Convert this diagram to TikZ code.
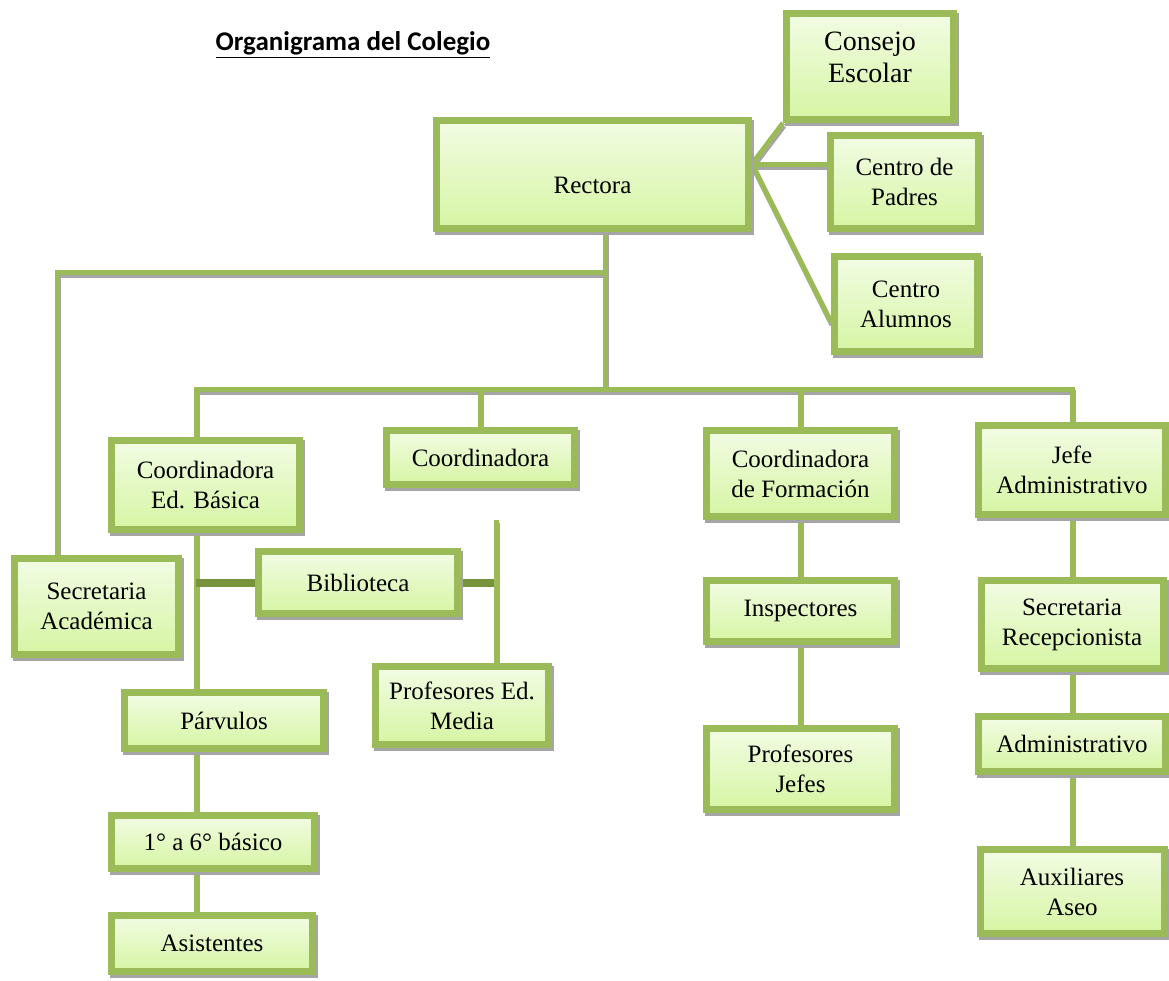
\documentclass[tikz,border=0pt]{standalone}
\usepackage{fontspec}
\setmainfont{Liberation Serif}
\newfontfamily\titlefont{Carlito}
\usepackage{xcolor}
\usetikzlibrary{shadows, backgrounds, positioning}
\definecolor{orggreen}{HTML}{9BBB59}
\definecolor{orgdark}{HTML}{77933C}
\definecolor{orgshadow}{HTML}{A5A5A5}
\definecolor{boxtop}{HTML}{F2FCE4}
\definecolor{boxbottom}{HTML}{D6F5A3}

\tikzset{
  unit/.style={draw=orggreen, line width=3.5pt, top color=boxtop, bottom color=boxbottom,
    align=center, inner sep=2pt, font=\fontsize{12.5}{15}\selectfont,
    drop shadow={shadow xshift=1pt, shadow yshift=-1.5pt, draw=orgshadow, fill=orgshadow, line width=3.5pt, opacity=1}},
  link/.style={draw=orggreen, line width=2.5pt},
  linkdark/.style={draw=orgdark, line width=4pt},
  title/.style={font=\titlefont\bfseries\fontsize{13.5}{15}\selectfont}
}

% all connectors, drawn once as shadow and once in green
\newcommand\orglinks{%
  \draw[link] (rectora.south -| hubA) -- (hubB);
  \draw[link] (hubA) -- (leftbar) -- (leftbar |- secacad.north);
  \draw[link] (rowB |- basica.north) |- (jefe.north |- hubB) -- (jefe.north);
  \draw[link] (coord.north |- hubB) -- (coord.north);
  \draw[link] (formacion.north |- hubB) -- (formacion.north);
  \draw[link] (rj) -- (consejo.south west);
  \draw[link] (rj) -- (rj -| padres.west);
  \draw[link] (rj) -- ([yshift=-9pt]alumnos.west);
  \draw[link] (rowB |- basica.south) -- (rowB |- parvulos.north);
  \draw[link] (rowB |- parvulos.south) -- (rowB |- basico.north);
  \draw[link] (rowB |- basico.south) -- (rowB |- asist.north);
  \draw[linkdark] (biblio.west -| rowB) -- (biblio.west);
  \draw[linkdark] (biblio.east) -- (biblio.east -| mediastem);
  \draw[link] (mediastem) -- (mediastem |- media.north);
  \draw[link] (formacion.south) -- (insp.north);
  \draw[link] (insp.south) -- (profjefes.north);
  \draw[link] (jefe.south) -- (secrec.north);
  \draw[link] (secrec.south) -- (admin.north);
  \draw[link] (admin.south) -- (aux.north);
}

\begin{document}
\begin{tikzpicture}[x=0.5pt, y=-0.5pt]
  \useasboundingbox (0,0) rectangle (1169,981);

  % Title
  \node[title] (title) at (353,45) {\underline{Organigrama del Colegio}};

  % Top level
  \node[unit, minimum width=156pt, minimum height=54pt, text height=20pt, text depth=1pt] (rectora) at (592.5,174.5) {Rectora};
  \node[unit, minimum width=83.5pt, minimum height=53pt, text depth=9pt, font=\fontsize{14}{16}\selectfont] (consejo) at (870,66.5) {Consejo\\Escolar};
  \node[unit, minimum width=74pt, minimum height=46.5pt] (padres) at (904.5,182) {Centro de\\Padres};
  \node[unit, minimum width=71.5pt, minimum height=47.5pt] (alumnos) at (906,304) {Centro\\Alumnos};

  % Second level
  \node[unit, minimum width=82pt, minimum height=48pt] (secacad) at (96.5,606.5) {Secretaria\\Académica};
  \node[unit, minimum width=94pt, minimum height=44.5pt] (basica) at (205.5,485) {Coordinadora\\Ed. Básica};
  \node[unit, minimum width=94pt, minimum height=27pt] (coord) at (480.5,457.5) {Coordinadora};
  \node[unit, minimum width=94pt, minimum height=43pt] (formacion) at (800.5,473.5) {Coordinadora\\de Formación};
  \node[unit, minimum width=93.5pt, minimum height=44.5pt] (jefe) at (1072,470) {Jefe\\Administrativo};

  % Basic education branch
  \node[unit, minimum width=99.5pt, minimum height=31pt] (biblio) at (358,582.5) {Biblioteca};
  \node[unit, minimum width=86.5pt, minimum height=39pt] (media) at (462,705.5) {Profesores Ed.\\Media};
  \node[unit, minimum width=99.5pt, minimum height=28pt] (parvulos) at (224,720.5) {Párvulos};
  \node[unit, minimum width=101.5pt, minimum height=26.5pt] (basico) at (213,842) {1° a 6° básico};
  \node[unit, minimum width=100.5pt, minimum height=28pt] (asist) at (212,943.5) {Asistentes};

  % Formation branch
  \node[unit, minimum width=94pt, minimum height=30.5pt] (insp) at (800.5,611) {Inspectores};
  \node[unit, minimum width=94pt, minimum height=40.5pt] (profjefes) at (800.5,769) {Profesores\\Jefes};

  % Administration branch
  \node[unit, minimum width=91pt, minimum height=44pt] (secrec) at (1072,624.5) {Secretaria\\Recepcionista};
  \node[unit, minimum width=93.5pt, minimum height=27.5pt] (admin) at (1072,744) {Administrativo};
  \node[unit, minimum width=92pt, minimum height=42pt] (aux) at (1072,891.5) {Auxiliares\\Aseo};

  % Connectors
  \coordinate (hubA) at (605,272);
  \coordinate (hubB) at (605,389);
  \coordinate (leftbar) at (57,272);
  \coordinate (rowB) at (196,389);
  \coordinate (mediastem) at (496,520);
  \coordinate (rj) at (752,164);
  \begin{scope}[on background layer]
    \begin{scope}[transform canvas={xshift=0.5pt, yshift=-1.5pt},
        link/.style={draw=orgshadow, line width=2.5pt}, linkdark/.style={draw=none}]
      \orglinks
    \end{scope}
    \orglinks
  \end{scope}
\end{tikzpicture}
\end{document}
